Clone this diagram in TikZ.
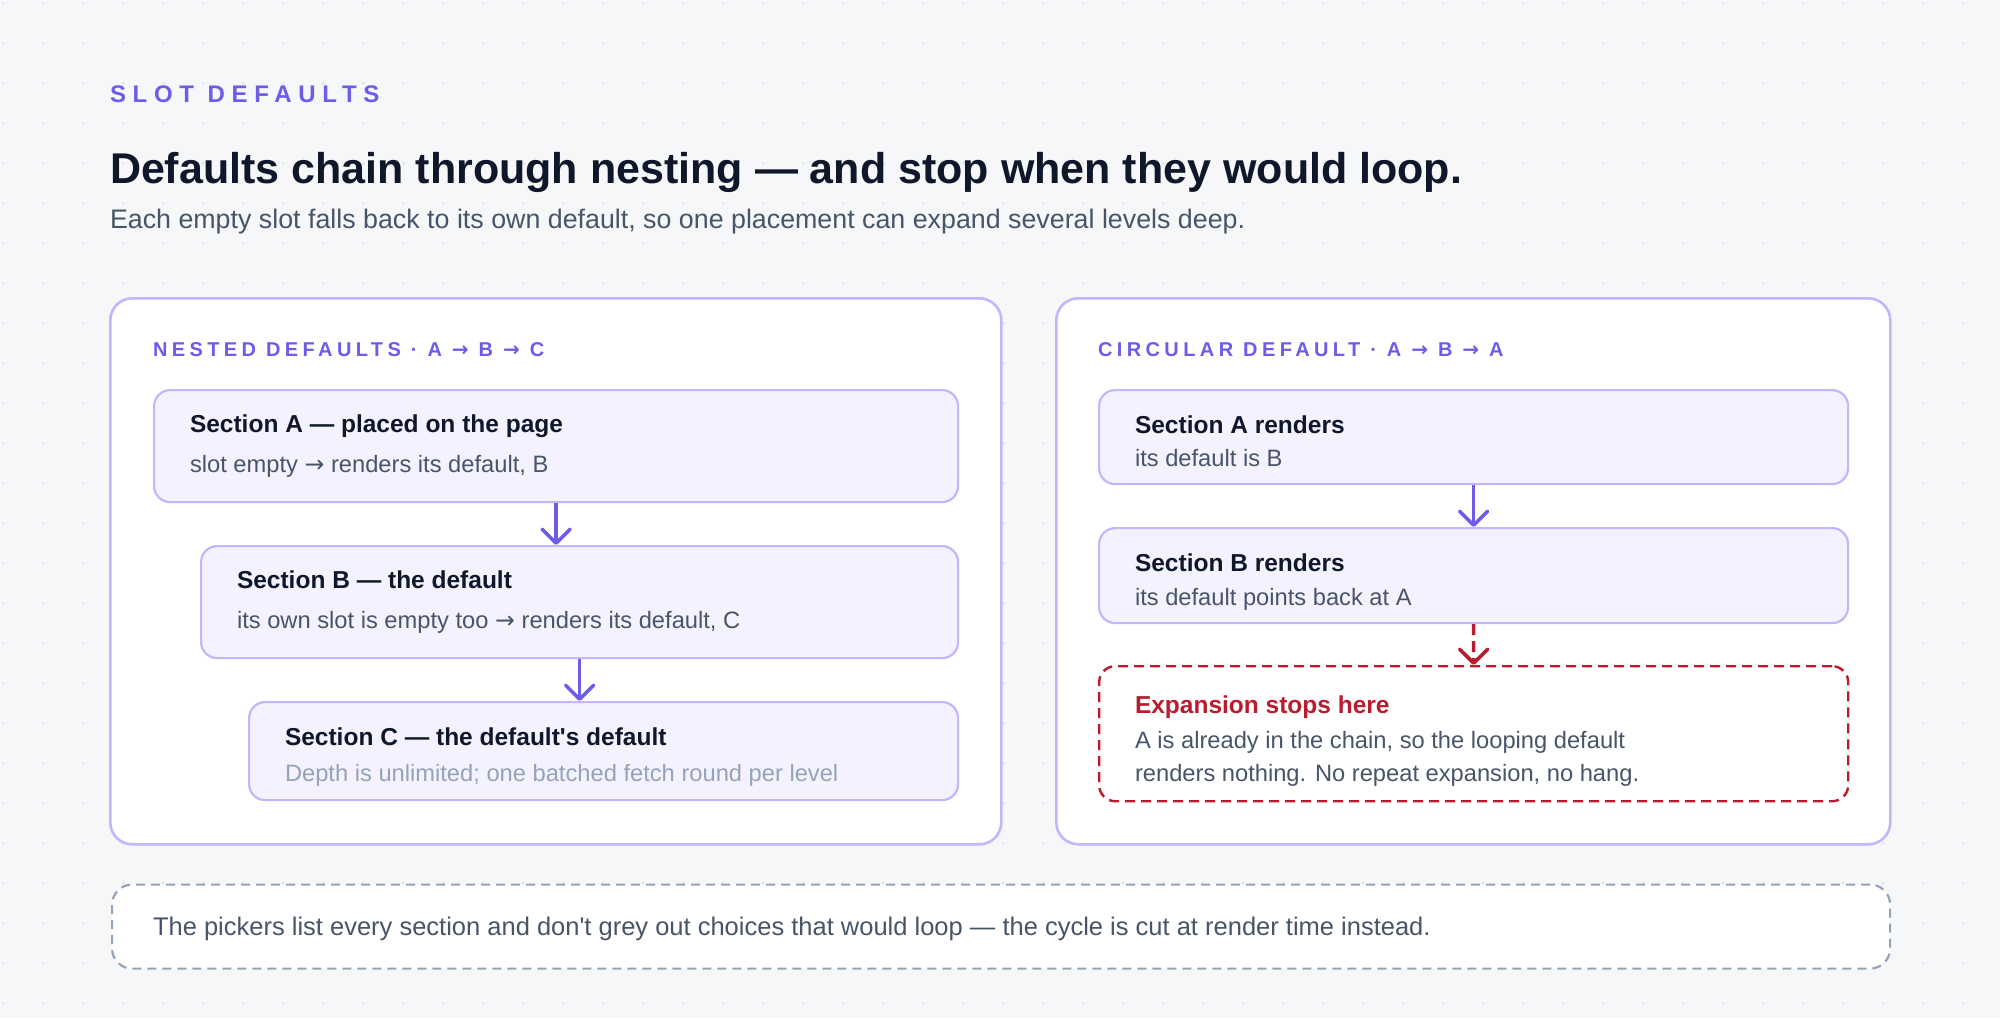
\documentclass[tikz,border=0pt]{standalone}
\usepackage{fontspec}
\setmainfont{Liberation Sans}[Ligatures=TeXOff]
\newfontfamily\kickerfont{Liberation Sans}[LetterSpace=28,Ligatures=TeXOff]
\newfontfamily\headfont{Liberation Sans}[LetterSpace=22,Ligatures=TeXOff]
\newfontfamily\arrowfont{DejaVu Sans}
\newcommand\rarr{{\arrowfont →}}
\usetikzlibrary{arrows.meta}
\definecolor{bg}{HTML}{F6F7F9}
\definecolor{dotc}{HTML}{E1E4EA}
\definecolor{accent}{HTML}{6C5CE7}
\definecolor{pborder}{HTML}{C4B5FD}
\definecolor{boxfill}{HTML}{F4F2FF}
\definecolor{ink}{HTML}{0F172A}
\definecolor{slatetext}{HTML}{475569}
\definecolor{mutedtext}{HTML}{94A3B8}
\definecolor{stopred}{HTML}{B91C2E}
\definecolor{graydash}{HTML}{94A3B8}
\begin{document}
\begin{tikzpicture}[x=1pt,y=-1pt,
  txt/.style={anchor=base west, inner sep=0pt, outer sep=0pt},
  panel/.style={draw=pborder, line width=2.6pt, fill=white, rounded corners=22pt, anchor=north west, inner sep=0pt},
  sbox/.style={draw=pborder, line width=2.2pt, fill=boxfill, rounded corners=16pt, anchor=north west, inner sep=0pt},
  stopbox/.style={draw=stopred, line width=2.4pt, dash pattern=on 10pt off 6pt, fill=white, rounded corners=16pt, anchor=north west, inner sep=0pt},
  notebox/.style={draw=graydash, line width=2.2pt, dash pattern=on 9pt off 6pt, fill=white, rounded corners=20pt, anchor=north west, inner sep=0pt},
  flow/.style={draw=accent, line width=3.6pt, -{Straight Barb[length=14pt,width=28pt,round]}},
  stopflow/.style={draw=stopred, line width=3.6pt, dash pattern=on 11pt off 6pt, -{Straight Barb[length=14pt,width=28pt,round]}},
  kicker/.style={txt, text=accent, font=\kickerfont\bfseries\fontsize{24}{28}\selectfont},
  head/.style={txt, text=accent, font=\headfont\bfseries\fontsize{20}{24}\selectfont},
  btitle/.style={txt, text=ink, font=\bfseries\fontsize{24.5}{28}\selectfont},
  bsub/.style={txt, text=slatetext, font=\fontsize{23.7}{28}\selectfont},
]
\fill[bg] (0,0) rectangle (2000,1018);
\path[use as bounding box] (0,0) rectangle (2000,1018);
\foreach \i in {0,...,49}{\foreach \j in {0,...,25}{\fill[dotc] (3.3+40*\i,3.3+40*\j) circle[radius=1.6pt];}}

% header
\node[kicker] (kick) at (110,102) {SLOT DEFAULTS};
\node[txt, text=ink, font=\bfseries\fontsize{43}{50}\selectfont] (title) at (110,183) {Defaults chain through nesting — and stop when they would loop.};
\node[txt, text=slatetext, font=\fontsize{26.8}{30}\selectfont] (subtitle) at (110,228) {Each empty slot falls back to its own default, so one placement can expand several levels deep.};

% panels
\node[panel, minimum width=891pt, minimum height=546pt] (P1) at (109,297) {};
\node[panel, minimum width=834pt, minimum height=546pt] (P2) at (1055,297) {};

% left panel
\node[head] (h1) at (153,356) {NESTED DEFAULTS · A \rarr{} B \rarr{} C};
\node[sbox, minimum width=804pt, minimum height=112pt] (A) at (153,389) {};
\node[btitle] (At) at (190,432.5) {Section A — placed on the page};
\node[bsub] (As) at (190,472.5) {slot empty \rarr{} renders its default, B};

\node[sbox, minimum width=757pt, minimum height=112pt] (B) at (200,545) {};
\node[btitle] (Bt) at (237,588.5) {Section B — the default};
\node[bsub] (Bs) at (237,628.5) {its own slot is empty too \rarr{} renders its default, C};

\node[sbox, minimum width=709pt, minimum height=98pt] (C) at (248,701) {};
\node[btitle] (Ct) at (285,745) {Section C — the default's default};
\node[bsub, text=mutedtext] (Cs) at (285,781.5) {Depth is unlimited; one batched fetch round per level};

\draw[flow] (A.south) -- (A.south |- B.north);
\draw[flow] (B.south) -- (B.south |- C.north);

% right panel
\node[head] (h2) at (1098,356) {CIRCULAR DEFAULT · A \rarr{} B \rarr{} A};
\node[sbox, minimum width=749pt, minimum height=94pt] (RA) at (1098,389) {};
\node[btitle] (RAt) at (1135,433) {Section A renders};
\node[bsub] (RAs) at (1135,466.5) {its default is B};

\node[sbox, minimum width=749pt, minimum height=95pt] (RB) at (1098,527) {};
\node[btitle] (RBt) at (1135,571.5) {Section B renders};
\node[bsub] (RBs) at (1135,605) {its default points back at A};

\node[stopbox, minimum width=749pt, minimum height=135pt] (RS) at (1098,665) {};
\node[btitle, text=stopred] (RSt) at (1135,713) {Expansion stops here};
\node[bsub] (RS1) at (1135,748) {A is already in the chain, so the looping default};
\node[bsub] (RS2) at (1135,781.5) {renders nothing. No repeat expansion, no hang.};

\draw[flow] (RA.south) -- (RB.north);
\draw[stopflow] (RB.south) -- (RS.north);

% bottom note
\node[notebox, minimum width=1778pt, minimum height=84pt] (note) at (111,883.5) {};
\node[bsub, font=\fontsize{25.5}{30}\selectfont] (notet) at (153,935) {The pickers list every section and don't grey out choices that would loop — the cycle is cut at render time instead.};
\end{tikzpicture}
\end{document}
